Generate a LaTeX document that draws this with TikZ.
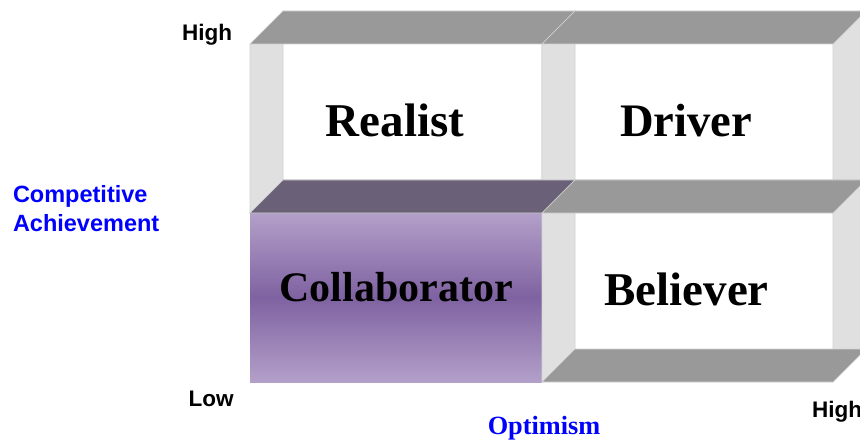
\documentclass[tikz,border=0pt]{standalone}
\usepackage{fontspec}
\setmainfont{Liberation Serif}
\newfontfamily\arialfont{Liberation Sans}
\definecolor{facegray}{HTML}{999999}
\definecolor{sidegray}{HTML}{E0E0E0}
\definecolor{edgegray}{HTML}{D2D2D2}
\definecolor{darkpurple}{HTML}{6A6078}
\definecolor{lavender}{HTML}{B3A0C9}
\definecolor{midpurple}{HTML}{7F62A1}
\definecolor{labelblue}{HTML}{0000FF}
\tikzset{
  sideface/.style={fill=sidegray,draw=edgegray,line width=0.6pt},
  flatface/.style={fill=facegray,draw=edgegray,line width=0.6pt},
  quadlabel/.style={anchor=base,inner sep=0pt,outer sep=0pt,font=\bfseries\fontsize{47}{47}\selectfont},
  axislabel/.style={inner sep=0pt,outer sep=0pt,font=\arialfont\bfseries\fontsize{22.5}{22.5}\selectfont},
  bluelabel/.style={inner sep=0pt,outer sep=0pt,text=labelblue,font=\arialfont\bfseries\fontsize{23.5}{23.5}\selectfont}
}
% hollow tube cell: #1=L, #2=R, #3=front top, #4=front bottom
\newcommand\hollowcell[4]{%
  \fill[white] (#1+33,#3) rectangle (#2,#4-33);
  \path[sideface] (#1,#3) -- (#1+33,#3-33) -- (#1+33,#4-33) -- (#1,#4) -- cycle;
  \path[sideface] (#2,#3) -- (#2+33,#3-33) -- (#2+33,#4-33) -- (#2,#4) -- cycle;
  \path[flatface] (#1,#3) -- (#1+33,#3-33) -- (#2+33,#3-33) -- (#2,#3) -- cycle;
  \path[flatface] (#1,#4) -- (#1+33,#4-33) -- (#2+33,#4-33) -- (#2,#4) -- cycle;
}
\begin{document}
\begin{tikzpicture}[x=1pt,y=-1pt]
\useasboundingbox (0,0) rectangle (860,441);
\clip (0,0) rectangle (860,441);
\fill[white] (0,0) rectangle (860,441);

% Realist cell
\hollowcell{250}{542}{44}{213}
% Driver cell
\hollowcell{542}{833}{44}{213}
% Collaborator cell (solid front)
\path[sideface] (542,213) -- (575,180) -- (575,349) -- (542,382) -- cycle;
\shade[top color=lavender,bottom color=lavender,middle color=midpurple] (250,213) rectangle (542,382);
\path[fill=darkpurple,draw=edgegray,line width=0.6pt] (250,213) -- (283,180) -- (575,180) -- (542,213) -- cycle;
% Believer cell
\hollowcell{542}{833}{213}{382}

% quadrant labels
\node[quadlabel] (realist) at (395,137) {Realist};
\node[quadlabel,font=\bfseries\fontsize{46.6}{46.6}\selectfont] (driver) at (686,137) {Driver};
\node[quadlabel,font=\bfseries\fontsize{42}{42}\selectfont] (collab) at (396,301) {Collaborator};
\node[quadlabel] (believer) at (686.5,305) {Believer};

% axis labels
\node[axislabel,anchor=base] (hightop) at (207,41) {High};
\node[axislabel,anchor=base] (low) at (211,406) {Low};
\node[axislabel,anchor=base west] (highright) at (812,417) {High};
\node[bluelabel,anchor=base west] (comp) at (13,203) {Competitive};
\node[bluelabel,anchor=base west] (achv) at (13,232) {Achievement};
\node[inner sep=0pt,outer sep=0pt,anchor=base,text=labelblue,font=\bfseries\fontsize{26.3}{26.3}\selectfont] (optimism) at (544,434) {Optimism};
\end{tikzpicture}
\end{document}
